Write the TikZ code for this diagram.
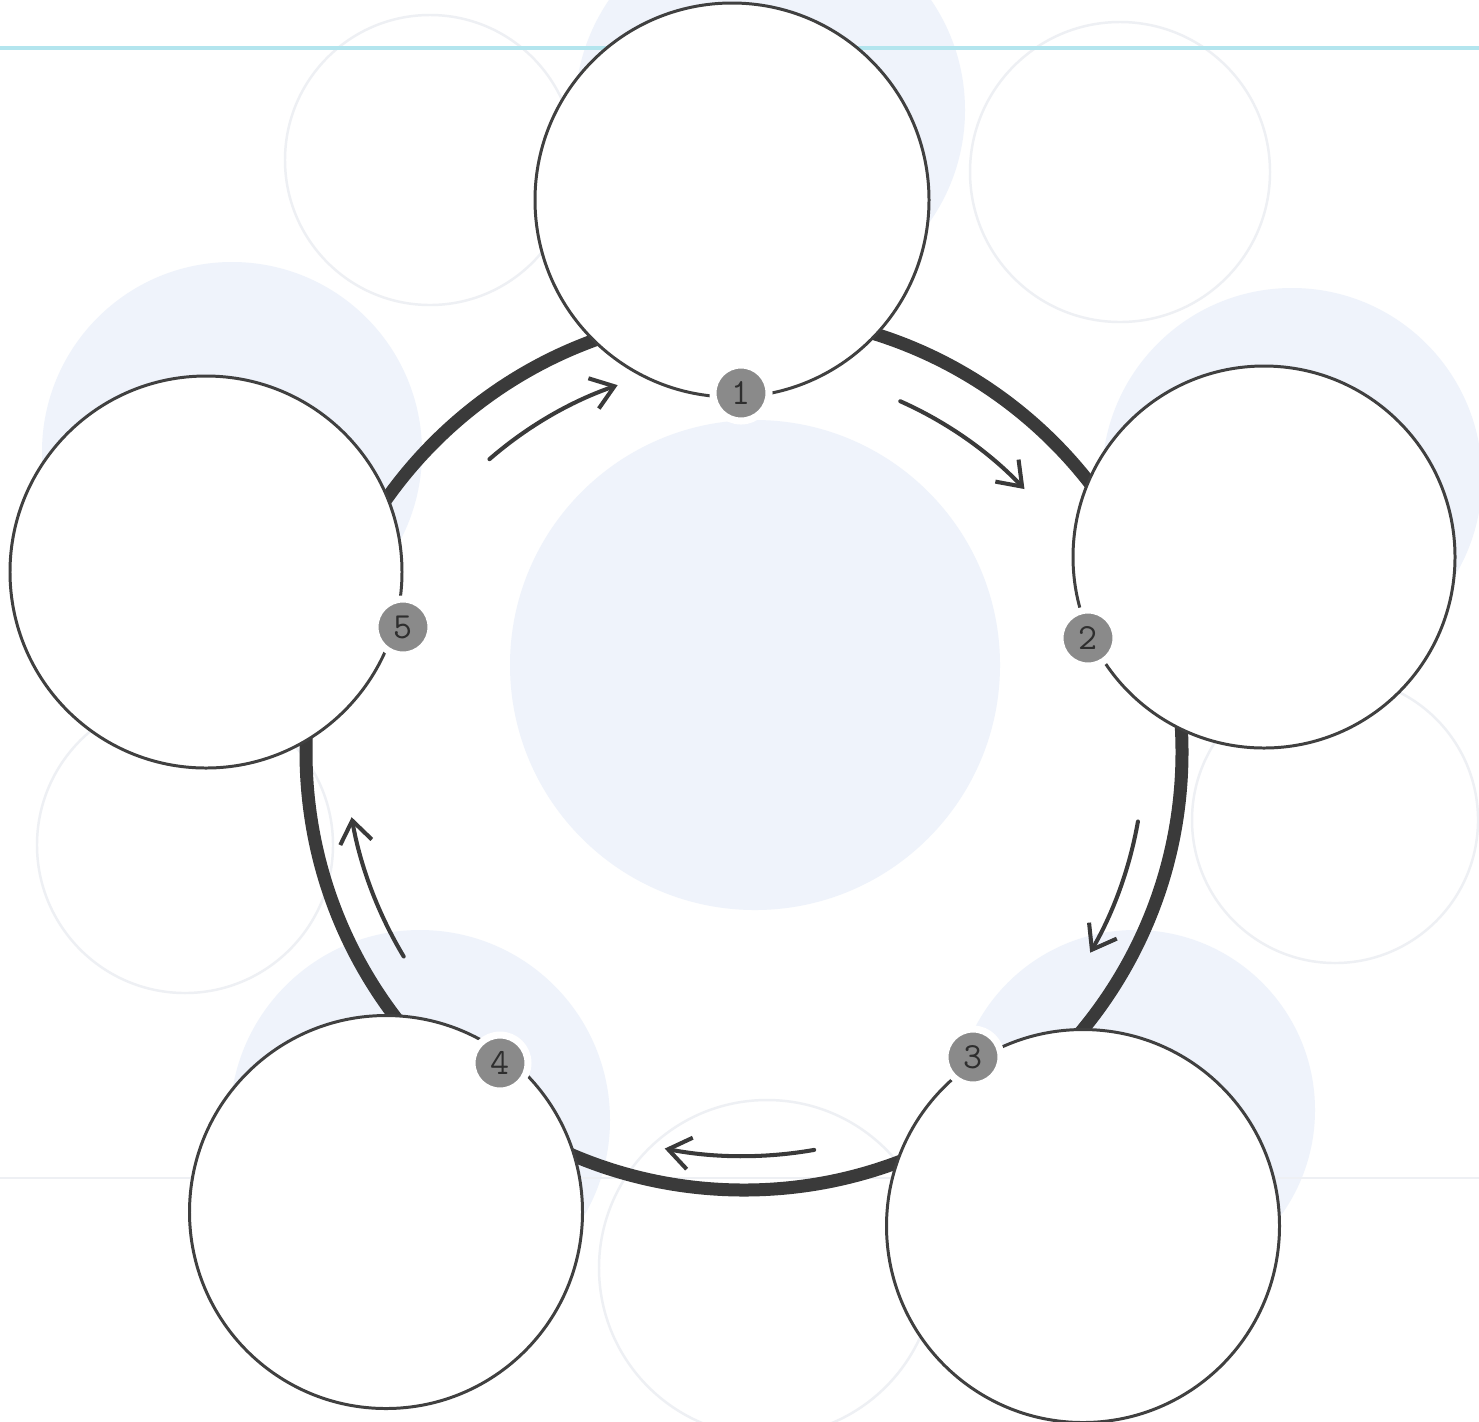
\documentclass[tikz,border=0pt]{standalone}
\usetikzlibrary{arrows.meta,calc}
\definecolor{ringc}{HTML}{3A3A3A}
\definecolor{outc}{HTML}{404040}
\definecolor{badgec}{HTML}{8A8A8A}
\definecolor{digitc}{HTML}{2E2E2E}
\definecolor{ghostblue}{HTML}{EFF3FB}
\definecolor{ghostline}{HTML}{EEF0F4}
\definecolor{cyanline}{HTML}{B3E5EE}
\tikzset{
  bigcircle/.style={circle,draw=outc,line width=1.7pt,fill=white,inner sep=0pt},
  badge/.style={circle,fill=badgec,draw=white,line width=4pt,inner sep=0pt,
    minimum size=1.12cm,text=digitc,font=\ttfamily\fontsize{21}{21}\selectfont},
  flowarrow/.style={draw=ringc,line width=2.3pt,line cap=round,
    -{Straight Barb[length=0.44cm,width=0.64cm,line width=2.3pt]}},
  ring/.style={draw=ringc,line width=7.4pt},
  ghostdisc/.style={fill=ghostblue},
  ghostcircle/.style={draw=ghostline,line width=1.4pt}
}
\begin{document}
\begin{tikzpicture}[x=0.02cm,y=-0.02cm]
\useasboundingbox (0,0) rectangle (1479,1421);
\fill[white] (0,0) rectangle (1479,1421);
% faint show-through from the back of the sheet
\fill[ghostdisc] (755,665) circle[radius=245];
\fill[ghostdisc] (770,110) circle[radius=195];
\fill[ghostdisc] (232,452) circle[radius=190];
\fill[ghostdisc] (1292,478) circle[radius=190];
\fill[ghostdisc] (1135,1110) circle[radius=180];
\fill[ghostdisc] (420,1120) circle[radius=190];
\draw[ghostcircle] (430,160) circle[radius=145];
\draw[ghostcircle] (1120,172) circle[radius=150];
\draw[ghostcircle] (1335,820) circle[radius=143];
\draw[ghostcircle] (185,845) circle[radius=148];
\draw[ghostcircle] (767,1268) circle[radius=168];
\draw[cyanline,line width=1.8pt] (0,48) -- (1479,48);
\draw[ghostline,line width=1pt] (0,1178) -- (1479,1178);
% main ring
\coordinate (ctr) at (744,752);
\draw[ring] (ctr) circle[radius=438];
% arrows (angles negated because the y axis points down)
\draw[flowarrow] ($(ctr)+(-131:388)$) arc[start angle=-131,end angle=-109,radius=388];
\draw[flowarrow] ($(ctr)+(-66:384)$) arc[start angle=-66,end angle=-43.5,radius=390];
\draw[flowarrow] ($(ctr)+(10:400)$) arc[start angle=10,end angle=30,radius=402];
\draw[flowarrow] ($(ctr)+(80:404)$) arc[start angle=80,end angle=101,radius=410];
\draw[flowarrow] ($(ctr)+(-211:397)$) arc[start angle=-211,end angle=-190,radius=408];
% stage circles
\node[bigcircle,minimum size=394*0.02cm] (c1) at (732,200) {};
\node[bigcircle,minimum size=382*0.02cm] (c2) at (1264,557) {};
\node[bigcircle,minimum size=393*0.02cm] (c3) at (1083,1226) {};
\node[bigcircle,minimum size=393*0.02cm] (c4) at (386,1212) {};
\node[bigcircle,minimum size=392*0.02cm] (c5) at (206,572) {};
% number badges
\node[badge] (b1) at (741,393) {1};
\node[badge] (b2) at (1088,638) {2};
\node[badge] (b3) at (973,1057) {3};
\node[badge] (b4) at (500,1063) {4};
\node[badge] (b5) at (403,627) {5};
\end{tikzpicture}
\end{document}
